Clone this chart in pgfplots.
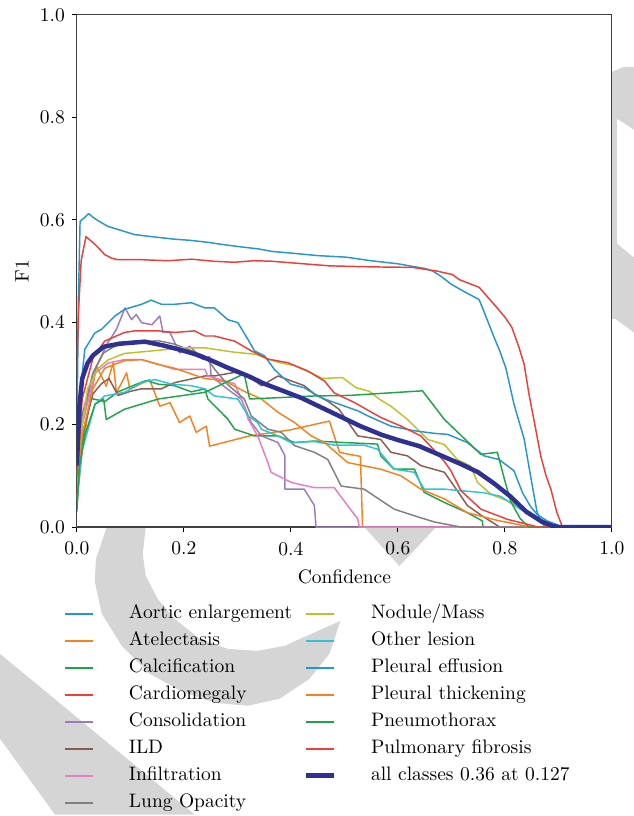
\documentclass[border=0pt]{standalone}
\usepackage{pgfplots}
\pgfplotsset{compat=1.18}
\definecolor{cblue}{HTML}{2696CC}
\definecolor{corange}{HTML}{F5821F}
\definecolor{cgreen}{HTML}{22A24A}
\definecolor{cred}{HTML}{E8403A}
\definecolor{cpurple}{HTML}{9B7BBD}
\definecolor{cbrown}{HTML}{8C5B4F}
\definecolor{cpink}{HTML}{E67EC4}
\definecolor{cgray}{HTML}{808080}
\definecolor{colive}{HTML}{BCC22A}
\definecolor{ccyan}{HTML}{2EC4D3}
\definecolor{call}{HTML}{2E3192}
\definecolor{wm}{HTML}{D5D5D5}
\begin{document}
\begin{tikzpicture}
\begin{scope}[x=0.512pt,y=-0.512pt,shift={(-77,-528)}]
\path[use as bounding box] (0,0) rectangle (635,816);
% watermark
\fill[wm] (0,655) -- (195,816) -- (55,816) -- (0,740) -- cycle;
\fill[wm] (107,528) -- (96,560) -- (95,583) -- (102,615) -- (122,647) -- (150,675) -- (183,693) -- (215,704) -- (248,707) -- (280,700) -- (310,680) -- (330,655) -- (341,622) -- (285,647) -- (258,652) -- (228,650) -- (200,640) -- (175,620) -- (158,600) -- (146,577) -- (143,555) -- (146,528) -- cycle;
\fill[wm] (365,528) -- (437,528) -- (400,567) -- cycle;
\fill[wm] (613,72) -- (625,67) -- (635,67) -- (635,130) -- (620,120) -- (613,118) -- cycle;
\fill[wm] (613,72) -- (618,72) -- (618,320) -- (613,320) -- cycle;
\fill[wm] (613,240) -- (635,258) -- (635,333) -- (613,317) -- cycle;
\end{scope}
\begin{axis}[
  name=ax, at={(0,0)}, anchor=south west,
  scale only axis, width=274.4pt, height=262.7pt,
  xmin=0, xmax=1, ymin=0, ymax=1,
  xtick={0,0.2,0.4,0.6,0.8,1}, ytick={0,0.2,0.4,0.6,0.8,1},
  xticklabels={0.0,0.2,0.4,0.6,0.8,1.0},
  yticklabels={0.0,0.2,0.4,0.6,0.8,1.0},
  tick align=outside, xtick pos=left, ytick pos=left,
  major tick length=2.6pt,
  tick style={black, line width=0.5pt},
  xticklabel style={yshift=-1.5pt},
  axis line style={black!75, line width=0.6pt},
  axis background/.style={fill=white},
  xlabel={Confidence}, ylabel={F1},
  xlabel style={at={(axis description cs:0.5,-0.0975)}, anchor=center},
  ylabel style={at={(axis description cs:-0.1026,0.5)}, anchor=center},
  every axis plot/.append style={line width=0.75pt, line join=round},
  legend image code/.code={\draw[#1] (0pt,0pt) -- (14.3pt,0pt);},
  legend columns=2,
  legend cell align=left,
  legend style={
    at={(axis description cs:-0.0243,-0.1425)}, anchor=north west,
    draw=none, fill=none, inner sep=0pt, row sep=0pt,
    nodes={inner xsep=0pt, inner ysep=1.91pt, text height=7.5pt, text depth=2.5pt},
    /tikz/every odd column/.append style={column sep=17.9pt},
    /tikz/every even column/.append style={column sep=6pt},
  },
]
% Aortic enlargement
\addplot[cblue, forget plot] coordinates {(0,0.18) (0.003,0.45) (0.006,0.597) (0.012,0.602) (0.022,0.612) (0.03,0.605) (0.04,0.598) (0.058,0.587) (0.08,0.58) (0.108,0.571) (0.14,0.567) (0.183,0.562) (0.21,0.56) (0.245,0.556) (0.27,0.552) (0.307,0.547) (0.34,0.543) (0.366,0.538) (0.4,0.535) (0.45,0.53) (0.503,0.527) (0.55,0.52) (0.6,0.514) (0.627,0.509) (0.65,0.505) (0.665,0.5) (0.68,0.49) (0.70,0.474) (0.72,0.462) (0.752,0.444) (0.765,0.41) (0.78,0.37) (0.79,0.345) (0.802,0.31) (0.817,0.24) (0.836,0.172) (0.849,0.094) (0.86,0.03) (0.868,0.01) (0.875,0) (1,0)};
% Atelectasis
\addplot[corange, forget plot] coordinates {(0,0.05) (0.01,0.15) (0.025,0.25) (0.037,0.314) (0.055,0.275) (0.068,0.321) (0.074,0.262) (0.093,0.301) (0.099,0.269) (0.136,0.288) (0.155,0.236) (0.174,0.243) (0.192,0.204) (0.211,0.217) (0.223,0.185) (0.242,0.197) (0.248,0.158) (0.323,0.178) (0.40,0.19) (0.472,0.207) (0.491,0.146) (0.509,0.142) (0.53,0.138) (0.534,0) (1,0)};
% Calcification
\addplot[cgreen, forget plot] coordinates {(0,0.03) (0.005,0.12) (0.015,0.2) (0.027,0.251) (0.052,0.245) (0.077,0.264) (0.121,0.283) (0.13,0.286) (0.152,0.279) (0.183,0.276) (0.214,0.264) (0.239,0.27) (0.245,0.25) (0.282,0.211) (0.295,0.191) (0.332,0.178) (0.376,0.178) (0.407,0.165) (0.444,0.168) (0.5,0.165) (0.562,0.162) (0.568,0.139) (0.593,0.113) (0.631,0.113) (0.649,0.068) (0.687,0.048) (0.73,0.028) (0.758,0.012) (0.759,0) (1,0)};
% Cardiomegaly
\addplot[cred, forget plot] coordinates {(0,0.3) (0.003,0.42) (0.008,0.52) (0.017,0.567) (0.025,0.56) (0.034,0.552) (0.045,0.54) (0.052,0.532) (0.065,0.525) (0.077,0.522) (0.121,0.522) (0.17,0.52) (0.215,0.523) (0.255,0.519) (0.295,0.517) (0.33,0.52) (0.364,0.519) (0.40,0.516) (0.472,0.51) (0.55,0.508) (0.627,0.507) (0.672,0.5) (0.702,0.493) (0.715,0.483) (0.752,0.468) (0.783,0.431) (0.80,0.41) (0.813,0.39) (0.826,0.352) (0.836,0.318) (0.845,0.26) (0.856,0.2) (0.867,0.139) (0.877,0.1) (0.886,0.074) (0.897,0.029) (0.907,0.002) (0.912,0) (1,0)};
% Consolidation
\addplot[cpurple, forget plot] coordinates {(0,0.1) (0.01,0.2) (0.03,0.3) (0.058,0.36) (0.074,0.386) (0.09,0.428) (0.102,0.405) (0.111,0.415) (0.121,0.399) (0.14,0.395) (0.155,0.412) (0.161,0.38) (0.174,0.38) (0.192,0.34) (0.211,0.353) (0.236,0.327) (0.248,0.333) (0.251,0.295) (0.282,0.269) (0.307,0.25) (0.326,0.204) (0.345,0.178) (0.376,0.165) (0.389,0.139) (0.389,0.074) (0.425,0.074) (0.444,0.042) (0.447,0) (1,0)};
% ILD
\addplot[cbrown, forget plot] coordinates {(0,0.06) (0.01,0.18) (0.03,0.26) (0.046,0.28) (0.06,0.29) (0.077,0.257) (0.1,0.265) (0.121,0.27) (0.158,0.27) (0.183,0.282) (0.239,0.295) (0.257,0.295) (0.295,0.302) (0.32,0.295) (0.345,0.276) (0.376,0.295) (0.425,0.276) (0.444,0.26) (0.47,0.245) (0.49,0.23) (0.525,0.178) (0.568,0.171) (0.587,0.146) (0.618,0.139) (0.643,0.12) (0.687,0.107) (0.711,0.071) (0.73,0.042) (0.76,0.02) (0.783,0.005) (0.79,0) (1,0)};
% Infiltration
\addplot[cpink, forget plot] coordinates {(0,0.08) (0.01,0.2) (0.034,0.30) (0.058,0.32) (0.089,0.327) (0.121,0.327) (0.152,0.318) (0.183,0.308) (0.239,0.308) (0.245,0.295) (0.295,0.28) (0.313,0.236) (0.32,0.211) (0.338,0.178) (0.357,0.126) (0.363,0.107) (0.401,0.087) (0.444,0.077) (0.481,0.077) (0.506,0.042) (0.525,0.016) (0.528,0) (1,0)};
% Lung Opacity
\addplot[cgray, forget plot] coordinates {(0,0.1) (0.01,0.22) (0.03,0.3) (0.05,0.34) (0.077,0.357) (0.152,0.364) (0.183,0.357) (0.239,0.334) (0.26,0.305) (0.282,0.278) (0.313,0.25) (0.326,0.217) (0.357,0.191) (0.382,0.185) (0.407,0.159) (0.444,0.146) (0.469,0.132) (0.494,0.08) (0.537,0.074) (0.593,0.035) (0.631,0.022) (0.668,0.01) (0.718,0) (1,0)};
% Nodule/Mass
\addplot[colive, forget plot] coordinates {(0,0.1) (0.01,0.2) (0.02,0.27) (0.04,0.31) (0.058,0.326) (0.089,0.339) (0.152,0.345) (0.2,0.35) (0.239,0.35) (0.29,0.342) (0.336,0.337) (0.357,0.328) (0.379,0.321) (0.407,0.315) (0.44,0.3) (0.459,0.29) (0.496,0.292) (0.522,0.272) (0.547,0.265) (0.565,0.25) (0.587,0.236) (0.618,0.21) (0.656,0.171) (0.687,0.161) (0.711,0.132) (0.736,0.119) (0.749,0.087) (0.774,0.064) (0.829,0.041) (0.866,0.015) (0.891,0.005) (0.9,0) (1,0)};
% Other lesion
\addplot[ccyan, forget plot] coordinates {(0,0.05) (0.01,0.15) (0.034,0.24) (0.052,0.256) (0.089,0.263) (0.121,0.282) (0.146,0.288) (0.177,0.279) (0.214,0.276) (0.239,0.27) (0.257,0.256) (0.301,0.25) (0.32,0.217) (0.338,0.204) (0.345,0.191) (0.376,0.178) (0.40,0.165) (0.444,0.167) (0.481,0.16) (0.537,0.16) (0.562,0.152) (0.593,0.113) (0.631,0.107) (0.649,0.074) (0.687,0.074) (0.761,0.067) (0.792,0.06) (0.848,0.022) (0.873,0.005) (0.88,0) (1,0)};
% Pleural effusion
\addplot[cblue, forget plot] coordinates {(0,0.1) (0.005,0.25) (0.0149,0.347) (0.0336,0.379) (0.046,0.386) (0.071,0.412) (0.089,0.425) (0.121,0.435) (0.139,0.443) (0.158,0.435) (0.183,0.435) (0.214,0.438) (0.239,0.428) (0.257,0.428) (0.282,0.405) (0.301,0.399) (0.32,0.366) (0.332,0.344) (0.351,0.334) (0.369,0.308) (0.382,0.295) (0.40,0.279) (0.425,0.272) (0.45,0.256) (0.463,0.25) (0.525,0.227) (0.544,0.217) (0.587,0.197) (0.631,0.188) (0.668,0.183) (0.693,0.181) (0.73,0.165) (0.761,0.139) (0.789,0.132) (0.817,0.11) (0.833,0.067) (0.848,0.04) (0.86,0.025) (0.879,0.012) (0.904,0.002) (0.91,0) (1,0)};
% Pleural thickening
\addplot[corange, forget plot] coordinates {(0,0.06) (0.01,0.18) (0.03,0.27) (0.052,0.31) (0.089,0.325) (0.121,0.327) (0.15,0.318) (0.183,0.31) (0.239,0.29) (0.257,0.288) (0.282,0.282) (0.313,0.265) (0.345,0.25) (0.376,0.224) (0.407,0.204) (0.438,0.178) (0.463,0.165) (0.506,0.126) (0.568,0.113) (0.606,0.1) (0.643,0.074) (0.687,0.055) (0.73,0.028) (0.786,0.013) (0.848,0) (1,0)};
% Pneumothorax
\addplot[cgreen, forget plot] coordinates {(0,0.04) (0.005,0.12) (0.015,0.18) (0.034,0.24) (0.05,0.25) (0.055,0.21) (0.089,0.23) (0.152,0.25) (0.239,0.263) (0.31,0.298) (0.313,0.298) (0.323,0.25) (0.444,0.256) (0.509,0.257) (0.646,0.266) (0.687,0.21) (0.755,0.142) (0.786,0.146) (0.80,0.09) (0.811,0.05) (0.829,0.016) (0.845,0) (1,0)};
% Pulmonary fibrosis
\addplot[cred, forget plot] coordinates {(0,0.1) (0.01,0.25) (0.03,0.33) (0.052,0.363) (0.089,0.38) (0.108,0.383) (0.152,0.383) (0.183,0.38) (0.22,0.383) (0.239,0.373) (0.257,0.373) (0.295,0.363) (0.326,0.344) (0.357,0.328) (0.394,0.321) (0.431,0.305) (0.463,0.285) (0.481,0.262) (0.519,0.243) (0.568,0.214) (0.606,0.197) (0.643,0.178) (0.668,0.15) (0.687,0.128) (0.699,0.11) (0.718,0.071) (0.755,0.035) (0.805,0.015) (0.855,0.002) (0.86,0) (1,0)};
% all classes
\addplot[call, line width=2.3pt, forget plot] coordinates {(0,0.12) (0.005,0.24) (0.01,0.29) (0.02,0.32) (0.03,0.335) (0.05,0.352) (0.08,0.358) (0.127,0.362) (0.16,0.355) (0.19,0.347) (0.22,0.338) (0.25,0.326) (0.28,0.312) (0.32,0.295) (0.35,0.28) (0.38,0.268) (0.42,0.252) (0.46,0.232) (0.5,0.212) (0.53,0.197) (0.57,0.18) (0.6,0.17) (0.64,0.158) (0.68,0.14) (0.72,0.122) (0.75,0.107) (0.78,0.085) (0.81,0.06) (0.84,0.03) (0.87,0.01) (0.89,0.002) (0.9,0) (1,0)};
% legend (two columns, filled column-wise)
\addlegendimage{cblue, line width=1pt}\addlegendentry{Aortic enlargement}
\addlegendimage{colive, line width=1pt}\addlegendentry{Nodule/Mass}
\addlegendimage{corange, line width=1pt}\addlegendentry{Atelectasis}
\addlegendimage{ccyan, line width=1pt}\addlegendentry{Other lesion}
\addlegendimage{cgreen, line width=1pt}\addlegendentry{Calcification}
\addlegendimage{cblue, line width=1pt}\addlegendentry{Pleural effusion}
\addlegendimage{cred, line width=1pt}\addlegendentry{Cardiomegaly}
\addlegendimage{corange, line width=1pt}\addlegendentry{Pleural thickening}
\addlegendimage{cpurple, line width=1pt}\addlegendentry{Consolidation}
\addlegendimage{cgreen, line width=1pt}\addlegendentry{Pneumothorax}
\addlegendimage{cbrown, line width=1pt}\addlegendentry{ILD}
\addlegendimage{cred, line width=1pt}\addlegendentry{Pulmonary fibrosis}
\addlegendimage{cpink, line width=1pt}\addlegendentry{Infiltration}
\addlegendimage{call, line width=2.3pt}\addlegendentry{all classes 0.36 at 0.127}
\addlegendimage{cgray, line width=1pt}\addlegendentry{Lung Opacity}
\end{axis}
\end{tikzpicture}
\end{document}
